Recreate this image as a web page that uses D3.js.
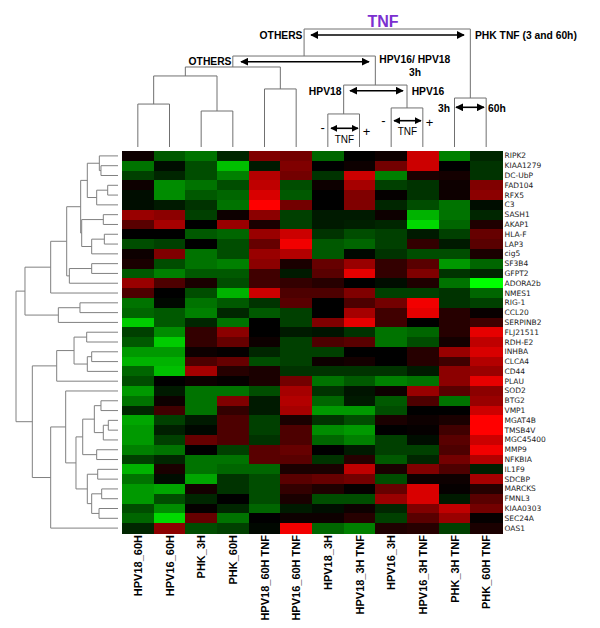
<!DOCTYPE html>
<html>
<head>
<meta charset="utf-8">
<script src="https://cdn.jsdelivr.net/npm/d3@7"></script>
<style>body{margin:0;background:#fff}</style>
</head>
<body>
<svg id="chart" width="600" height="628"></svg>
<script>
// Samples (columns) in dendrogram order
const samples = ["HPV18_60H", "HPV16_60H", "PHK_3H", "PHK_60H", "HPV18_60H TNF", "HPV16_60H TNF",
    "HPV18_3H", "HPV18_3H TNF", "HPV16_3H", "HPV16_3H TNF", "PHK_3H TNF", "PHK_60H TNF"];

// Genes (rows) in dendrogram order
const genes = ["RIPK2", "KIAA1279", "DC-UbP", "FAD104", "RFX5", "C3", "SASH1", "AKAP1", "HLA-F", "LAP3",
    "cig5", "SF3B4", "GFPT2", "ADORA2b", "NMES1", "RIG-1", "CCL20", "SERPINB2", "FLJ21511", "RDH-E2",
    "INHBA", "CLCA4", "CD44", "PLAU", "SOD2", "BTG2", "VMP1", "MGAT4B", "TMSB4V", "MGC45400",
    "MMP9", "NFKBIA", "IL1F9", "SDCBP", "MARCKS", "FMNL3", "KIAA0303", "SEC24A", "OAS1"];

// Relative expression (green = down, red = up), one row per gene
const values = [
    [0.05,-0.35,-0.45,-0.15,0.5,0.45,-0.4,0,0.05,0.8,-0.5,-0.15],
    [-0.45,-0.05,-0.3,-0.75,-0.1,0.5,0,0.05,0.45,0.8,0,-0.2],
    [-0.25,-0.15,-0.3,-0.5,0.7,0.45,-0.2,0.8,-0.5,0.1,0.08,-0.2],
    [0.05,-0.55,-0.45,-0.3,0.75,-0.3,0.05,0.65,-0.25,-0.2,0.05,0.5],
    [-0.05,-0.55,-0.35,-0.4,0.85,-0.35,0,0.5,0.02,-0.2,0.05,0.55],
    [-0.05,-0.1,-0.2,-0.45,1.0,0.45,0,0.5,-0.15,-0.3,-0.45,-0.05],
    [0.6,0.55,-0.25,0.05,0.55,-0.25,-0.1,-0.1,0.05,-0.7,-0.45,-0.15],
    [0.35,0.65,0,0.6,0.1,-0.25,-0.1,-0.12,-0.15,-0.85,-0.4,0.12],
    [0,0,-0.35,-0.4,0.6,0.8,-0.2,-0.3,-0.25,-0.1,-0.25,0.4],
    [-0.3,-0.25,0,-0.3,0.4,0.95,-0.35,-0.4,-0.25,0.2,-0.1,0.35],
    [0.05,0.5,-0.45,-0.3,0.6,0.7,-0.35,-0.03,-0.2,-0.3,-0.3,0.1],
    [0.1,-0.3,-0.45,-0.5,0.55,0.1,0.4,0.6,0.2,0.35,-0.6,-0.4],
    [-0.35,-0.5,-0.35,-0.35,0.25,-0.1,0.35,0.9,0.2,0.5,-0.2,-0.15],
    [0.6,0.3,0.1,-0.3,0.25,0.2,0.15,0,-0.05,0.12,-0.45,-1.0],
    [0.3,0,-0.3,-0.7,0.8,0.3,0.3,0.5,-0.25,-0.25,-0.2,-0.4],
    [-0.45,-0.03,-0.45,-0.35,-0.2,0.35,0,0.3,0.45,0.95,-0.2,-0.25],
    [-0.4,-0.35,-0.5,-0.15,-0.35,-0.25,0,0.65,0.25,0.9,0.15,0.03],
    [-0.8,-0.35,-0.15,-0.45,0,-0.25,0.5,0.9,0.25,0,0.15,0.25],
    [-0.25,-0.55,0.2,0.55,0,-0.1,-0.08,-0.2,-0.45,-0.4,0.15,0.9],
    [-0.35,-0.8,0.2,0.4,0.05,-0.25,0.3,0.35,-0.45,-0.3,0.08,0.75],
    [-0.6,-0.6,0.05,0.02,-0.15,-0.25,-0.25,0,0,0.15,0.6,0.85],
    [-0.7,-0.7,0.3,0.4,-0.3,-0.25,0.05,0.08,0,0.15,0.25,0.7],
    [-0.4,-0.75,0.65,0.15,0.1,-0.2,-0.2,-0.2,-0.2,-0.1,0.55,0.6],
    [-0.3,0,0.05,0.02,0.1,0.45,-0.45,-0.35,-0.5,-0.45,0.55,0.9],
    [-0.6,-0.1,-0.45,-0.45,-0.3,0.65,-0.2,-0.08,0.05,0.6,0.35,0.55],
    [-0.45,0.05,-0.45,0.5,-0.1,0.7,-0.4,-0.1,-0.35,0.3,-0.45,0.6],
    [-0.15,0.25,-0.45,0.2,-0.1,0.65,-0.6,-0.6,-0.3,0,0,0.8],
    [-0.65,-0.25,-0.1,0.3,-0.25,0.1,-0.2,-0.3,0.1,0.05,0.1,1.0],
    [-0.6,-0.12,-0.03,0.3,-0.25,0.3,-0.55,-0.6,0,0.02,0.25,1.0],
    [-0.6,-0.25,0.4,0.3,-0.2,0.3,-0.4,-0.5,-0.25,-0.05,0.35,0.8],
    [-0.5,-0.45,0,-0.25,0.35,0.4,0,-0.1,-0.25,-0.25,0.3,0.95],
    [-0.25,-0.15,-0.45,-0.45,0.35,0.35,-0.2,0.15,-0.35,-0.15,0.45,0.7],
    [-0.7,0.1,-0.45,-0.4,-0.4,0.1,0.1,0.75,0.1,0.5,0.3,-0.12],
    [-0.45,-0.05,-0.65,-0.2,-0.3,0.35,0.4,0.45,-0.3,0.05,0.05,0.65],
    [-0.6,-0.65,0.08,-0.2,-0.3,0.2,0.12,0.02,0.4,0.85,0.02,0.15],
    [-0.6,-0.3,-0.15,0,-0.3,0.1,-0.3,-0.3,0.6,0.85,-0.1,0.35],
    [-0.3,-0.55,0.02,-0.15,-0.4,-0.1,-0.05,0.05,-0.15,0.5,0.75,0.45],
    [-0.4,-0.85,0.4,-0.45,0,0.05,0.05,0.15,-0.25,0.35,0.6,0.02],
    [-0.15,0.55,-0.3,-0.25,-0.03,0.95,-0.4,-0.5,0.12,0.15,-0.25,0.1]
];

// Linkages [a, b, distance]; index >= leaf count points at an earlier link
const colLinks = [
    [0,1,.364],[2,3,.305],[12,13,.602],[4,5,.492],[14,15,.678],[6,7,.280],
    [8,9,.331],[17,18,.525],[16,19,.771],[10,11,.415],[20,21,1.0]
];
const rowLinks = [
    [1,2,.167],[0,39,.183],[3,4,.101],[41,5,.209],[40,42,.301],[6,7,.144],
    [8,9,.134],[45,10,.258],[44,46,.356],[43,47,.366],[11,12,.258],[49,13,.477],
    [48,50,.503],[51,14,.660],[15,16,.373],[53,17,.585],[52,54,.912],[18,19,.307],
    [20,21,.258],[57,22,.301],[56,58,.431],[59,23,.601],[25,26,.167],[27,28,.095],
    [62,29,.144],[61,63,.232],[30,31,.209],[64,65,.346],[32,33,.199],[34,35,.160],
    [36,37,.186],[68,69,.258],[67,70,.301],[66,71,.412],[24,72,.513],[73,38,.660],
    [60,74,.840],[55,75,1.0]
];

const svg = d3.select("#chart");
const FONT = "'Liberation Sans', Arial, sans-serif";

const x = d3.scaleBand().domain(d3.range(samples.length)).range([122, 502]);
const y = d3.scaleBand().domain(d3.range(genes.length)).range([151, 533]);
const color = d3.scaleLinear().domain([-1, 0, 1]).range(["#00ff00", "#000000", "#ff0000"]);
const colH = d3.scaleLinear().domain([0, 1]).range([147, 29]);
const rowH = d3.scaleLinear().domain([0, 1]).range([118, 16]);

// turn a linkage list into elbow segments
function treeSegments(links, n, leafPos) {
    const pos = d3.range(n).map(leafPos), h = d3.range(n).map(() => 0);
    return links.map(([a, b, d]) => {
        const s = { a: pos[a], b: pos[b], ha: h[a], hb: h[b], h: d };
        pos.push((pos[a] + pos[b]) / 2); h.push(d);
        return s;
    });
}

// Heatmap cells
const cells = values.flatMap((row, i) => row.map((v, j) => ({ i, j, v })));
svg.append("g").selectAll("rect").data(cells).join("rect")
    .attr("x", d => x(d.j)).attr("y", d => y(d.i))
    .attr("width", x.bandwidth() + 0.5).attr("height", y.bandwidth() + 0.5)
    .attr("fill", d => color(d.v))
    .attr("shape-rendering", "crispEdges");

// Column dendrogram
const colSegs = treeSegments(colLinks, samples.length, j => x(j) + x.bandwidth() / 2);
svg.append("g").selectAll("path").data(colSegs).join("path")
    .attr("d", s => `M${s.a},${colH(s.ha)}V${colH(s.h)}H${s.b}V${colH(s.hb)}`)
    .attr("fill", "none").attr("stroke", "#707070").attr("stroke-width", 1);

// Row dendrogram
const rowSegs = treeSegments(rowLinks, genes.length, i => y(i) + y.bandwidth() / 2);
svg.append("g").selectAll("path").data(rowSegs).join("path")
    .attr("d", s => `M${rowH(s.ha)},${s.a}H${rowH(s.h)}V${s.b}H${rowH(s.hb)}`)
    .attr("fill", "none").attr("stroke", "#808080").attr("stroke-width", 1);

// Gene labels
svg.append("g").selectAll("text").data(genes).join("text")
    .attr("x", 504.5).attr("y", (d, i) => y(i) + y.bandwidth() / 2)
    .attr("dominant-baseline", "central")
    .attr("font-family", "'DejaVu Sans', sans-serif").attr("font-size", "7.5px")
    .attr("fill", "#222")
    .text(d => d);

// Sample labels
svg.append("g").selectAll("text").data(samples).join("text")
    .attr("transform", (d, j) => `translate(${x(j) + x.bandwidth() / 2 + 4},535) rotate(-90)`)
    .attr("text-anchor", "end")
    .attr("font-family", FONT).attr("font-weight", "bold").attr("font-size", "11px")
    .text(d => d);

// Annotations
const defs = svg.append("defs");
[["ahBig", 8], ["ahSmall", 7]].forEach(([id, s]) => {
    defs.append("marker")
        .attr("id", id).attr("viewBox", "0 -5 10 10")
        .attr("refX", 9).attr("refY", 0)
        .attr("markerUnits", "userSpaceOnUse")
        .attr("markerWidth", s).attr("markerHeight", s)
        .attr("orient", "auto-start-reverse")
        .append("path").attr("d", "M0,-5L10,0L0,5Z").attr("fill", "#000");
});

const arrows = [
    { x1: 311, x2: 464, y: 35, m: "ahBig" },
    { x1: 241, x2: 369, y: 61.7, m: "ahBig" },
    { x1: 350, x2: 403, y: 90.7, m: "ahBig" },
    { x1: 456, x2: 484, y: 107.3, m: "ahBig" },
    { x1: 331, x2: 358, y: 128.3, m: "ahSmall" },
    { x1: 394, x2: 421, y: 120.7, m: "ahSmall" }
];
svg.append("g").selectAll("line").data(arrows).join("line")
    .attr("x1", d => d.x1).attr("x2", d => d.x2)
    .attr("y1", d => d.y).attr("y2", d => d.y)
    .attr("stroke", "#000").attr("stroke-width", 1.6)
    .attr("marker-start", d => `url(#${d.m})`).attr("marker-end", d => `url(#${d.m})`);

const notes = [
    { t: "OTHERS", x: 302.5, y: 39.3, a: "end", b: true },
    { t: "PHK TNF (3 and 60h)", x: 475, y: 39.3, a: "start", b: true },
    { t: "OTHERS", x: 231.5, y: 65, a: "end", b: true },
    { t: "HPV16/ HPV18", x: 379.3, y: 63.3, a: "start", b: true },
    { t: "3h", x: 415, y: 75.5, a: "middle", b: true },
    { t: "HPV18", x: 341.5, y: 95, a: "end", b: true },
    { t: "HPV16", x: 411.7, y: 95, a: "start", b: true },
    { t: "3h", x: 450, y: 111.7, a: "end", b: true },
    { t: "60h", x: 488, y: 111.7, a: "start", b: true },
    { t: "TNF", x: 344.5, y: 143.3, a: "middle", b: false },
    { t: "TNF", x: 407.5, y: 135, a: "middle", b: false }
];
svg.append("g").selectAll("text").data(notes).join("text")
    .attr("x", d => d.x).attr("y", d => d.y)
    .attr("text-anchor", d => d.a)
    .attr("font-family", FONT).attr("font-size", d => d.b ? "10.3px" : "10px")
    .attr("font-weight", d => d.b ? "bold" : "normal")
    .text(d => d.t);

const signs = [
    { t: "-", x: 322.7, y: 132 }, { t: "+", x: 366.5, y: 135.5 },
    { t: "-", x: 383.3, y: 124.5 }, { t: "+", x: 429.5, y: 127 }
];
svg.append("g").selectAll("text").data(signs).join("text")
    .attr("x", d => d.x).attr("y", d => d.y)
    .attr("text-anchor", "middle")
    .attr("font-family", FONT).attr("font-size", "13px")
    .text(d => d.t);

svg.append("text")
    .attr("x", 383).attr("y", 26.7)
    .attr("text-anchor", "middle")
    .attr("font-family", FONT).attr("font-weight", "bold").attr("font-size", "16px")
    .attr("fill", "#7b30d0")
    .text("TNF");
</script>
</body>
</html>
